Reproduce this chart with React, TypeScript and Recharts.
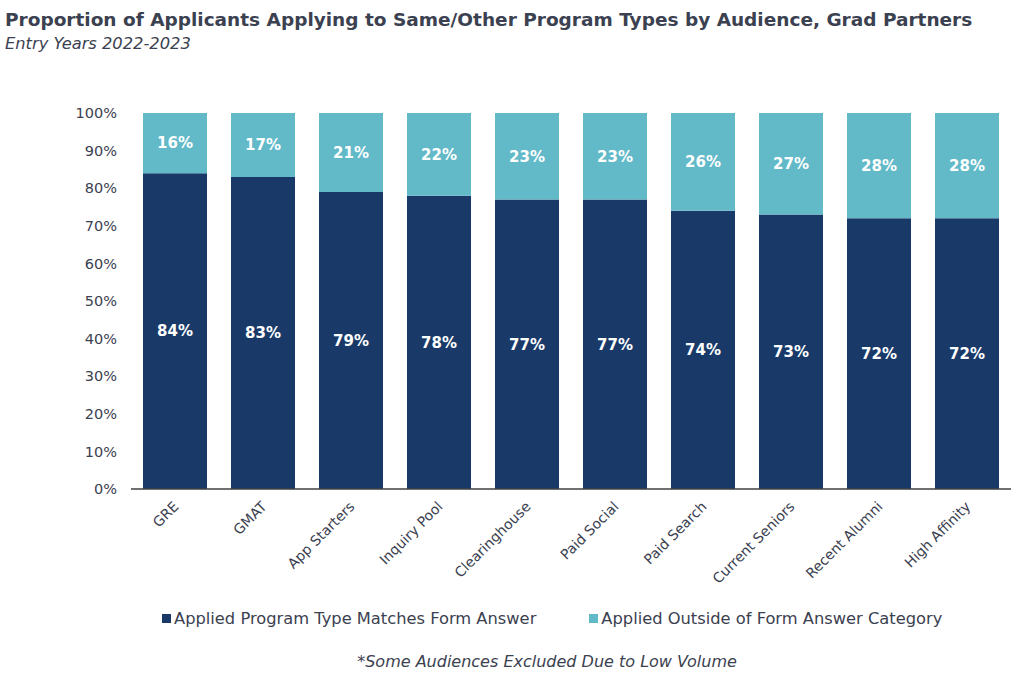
import React from 'react';
import { BarChart, Bar, XAxis, YAxis, LabelList } from 'recharts';

const audiences = [
  'GRE', 'GMAT', 'App Starters', 'Inquiry Pool', 'Clearinghouse',
  'Paid Social', 'Paid Search', 'Current Seniors', 'Recent Alumni', 'High Affinity',
];
const matches = [84, 83, 79, 78, 77, 77, 74, 73, 72, 72];
const outside = [16, 17, 21, 22, 23, 23, 26, 27, 28, 28];
const yTicks = [0, 10, 20, 30, 40, 50, 60, 70, 80, 90, 100];

const NAVY = '#193a69';
const TEAL = '#62b9c8';
const TEXT = '#3b4150';
const FONT = '"DejaVu Sans", Verdana, sans-serif';

const data = audiences.map((name, i) => ({
  name,
  matches: matches[i],
  outside: outside[i],
}));

const XTick = ({ x, y, payload }: any) => (
  <g transform={`translate(${x + 1},${y + 7})`}>
    <text
      textAnchor="end"
      transform="rotate(-45)"
      fill={TEXT}
      fontSize={14}
      fontFamily={FONT}
      dy="0.35em"
    >
      {payload.value}
    </text>
  </g>
);

const LegendItem = ({ color, label }: { color: string; label: string }) => (
  <span style={{ display: 'inline-flex', alignItems: 'center' }}>
    <span style={{ width: 9, height: 9, background: color, display: 'inline-block', marginRight: 3 }} />
    {label}
  </span>
);

const barLabel = {
  position: 'center' as const,
  formatter: (v: any) => `${v}%`,
  fill: '#fff',
  fontSize: 15,
  fontWeight: 'bold',
  fontFamily: FONT,
};

export default function App() {
  return (
    <div
      style={{
        position: 'absolute', left: 0, top: 0, width: 1024, height: 686,
        background: '#fff', fontFamily: FONT, color: TEXT,
      }}
    >
      <div style={{ position: 'absolute', left: 5, top: 9, fontSize: 18.5, fontWeight: 'bold', whiteSpace: 'nowrap' }}>
        Proportion of Applicants Applying to Same/Other Program Types by Audience, Grad Partners
      </div>
      <div style={{ position: 'absolute', left: 5, top: 34, fontSize: 16.3, fontStyle: 'italic' }}>
        Entry Years 2022-2023
      </div>
      <div style={{ position: 'absolute', left: 0, top: 0 }}>
        <BarChart
          width={1024}
          height={600}
          data={data}
          margin={{ top: 113, right: 13, left: 0, bottom: 11 }}
          barCategoryGap={12}
        >
          <XAxis
            dataKey="name"
            height={100}
            interval={0}
            tickLine={false}
            axisLine={{ stroke: '#404040', strokeWidth: 1.5 }}
            tick={<XTick />}
          />
          <YAxis
            width={131}
            domain={[0, 100]}
            ticks={yTicks}
            axisLine={false}
            tickLine={false}
            tickMargin={8}
            tickFormatter={(v) => `${v}%`}
            tick={{ fill: TEXT, fontSize: 14.5, fontFamily: FONT }}
          />
          <Bar dataKey="matches" stackId="a" fill={NAVY} isAnimationActive={false}>
            <LabelList dataKey="matches" {...barLabel} />
          </Bar>
          <Bar dataKey="outside" stackId="a" fill={TEAL} isAnimationActive={false}>
            <LabelList dataKey="outside" {...barLabel} />
          </Bar>
        </BarChart>
      </div>
      <div
        style={{
          position: 'absolute', left: 162, top: 609, fontSize: 16.3,
          display: 'flex', gap: 53, whiteSpace: 'nowrap',
        }}
      >
        <LegendItem color={NAVY} label="Applied Program Type Matches Form Answer" />
        <LegendItem color={TEAL} label="Applied Outside of Form Answer Category" />
      </div>
      <div
        style={{
          position: 'absolute', left: 0, width: 1094, top: 652, fontSize: 16,
          fontStyle: 'italic', textAlign: 'center',
        }}
      >
        *Some Audiences Excluded Due to Low Volume
      </div>
    </div>
  );
}
